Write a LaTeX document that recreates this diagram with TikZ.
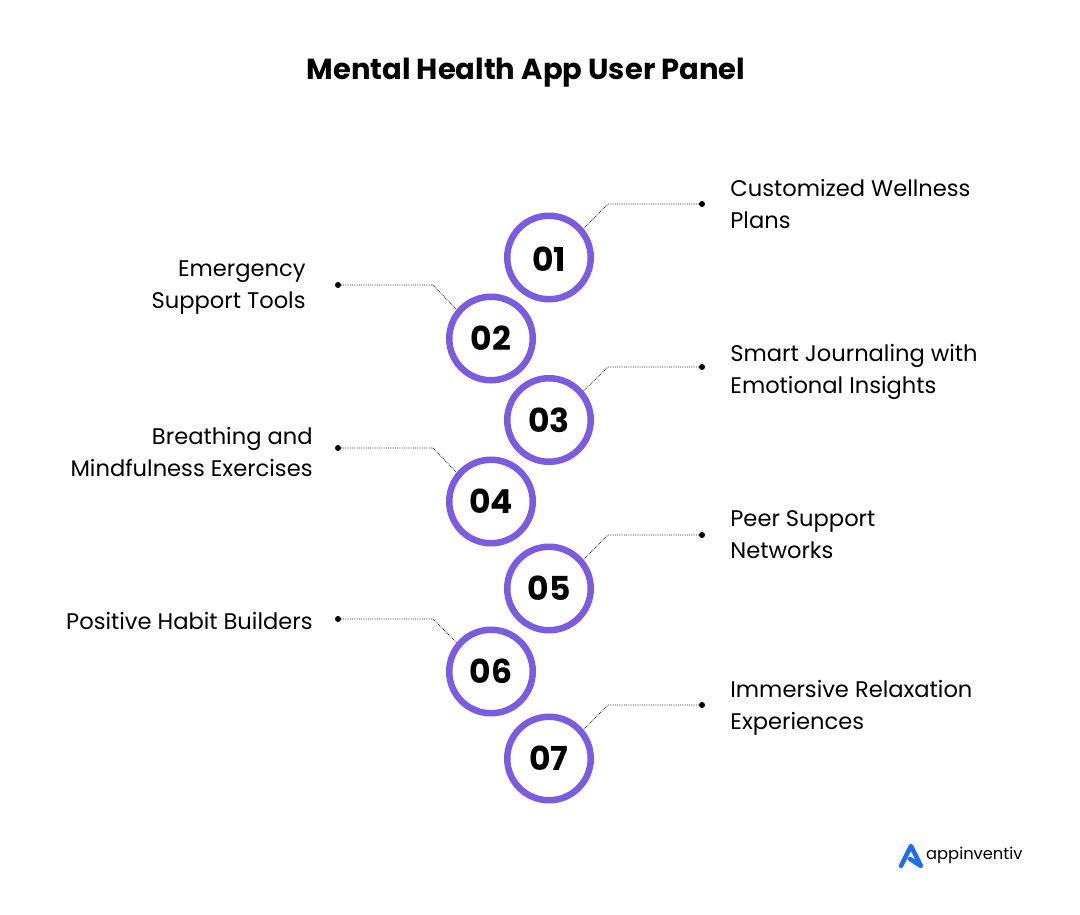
\documentclass[tikz,border=0pt]{standalone}
\usepackage{fontspec}
\setmainfont{Poppins}
\usepackage{xcolor}
\definecolor{ringpurple}{HTML}{7B5CE0}
\definecolor{logoblue}{HTML}{1F6FEB}
\usetikzlibrary{positioning}
\tikzset{
  ring/.style    ={ circle, draw=ringpurple, line width=6.5pt, fill=white, minimum size=83.5pt,
                    inner sep=0pt, font=\fontsize{33}{33}\selectfont\bfseries },
  enddot/.style  ={ circle, fill=black, inner sep=0pt, minimum size=6pt },
  rlabel/.style  ={ font=\fontsize{22.6}{32}\selectfont, align=left, inner sep=0pt },
  llabel/.style  ={ font=\fontsize{22.6}{32}\selectfont, align=right, inner sep=0pt },
  leader/.style  ={ draw=black!85, line width=0.8pt, densely dotted }
}
\begin{document}
\begin{tikzpicture}[x=1pt,y=-1pt]
\useasboundingbox (0,0) rectangle (1080,915);

\node[font=\fontsize{29}{29}\selectfont\bfseries,inner sep=0pt] (title) at (526, 73) {Mental Health App User Panel};

\node[ring,text height=27pt,text depth=0pt] (c1) at (549, 257.5) {01};
\node[ring] (c2) at (491, 338.5) {02};
\node[ring] (c3) at (549, 420) {03};
\node[ring] (c4) at (491, 501.5) {04};
\node[ring] (c5) at (549, 588.5) {05};
\node[ring] (c6) at (491, 671.5) {06};
\node[ring] (c7) at (549, 758.5) {07};

\node[enddot] (d1) at (702, 204) {};
\node[enddot] (d2) at (338, 285) {};
\node[enddot] (d3) at (702, 367) {};
\node[enddot] (d4) at (338, 448) {};
\node[enddot] (d5) at (702, 535) {};
\node[enddot] (d6) at (338, 619) {};
\node[enddot] (d7) at (702, 705) {};

\node[rlabel] (t1) [right=25pt of d1] {Customized Wellness\\Plans};
\node[llabel] (t2) [left=29pt of d2,yshift=-3pt] {Emergency\\Support Tools};
\node[rlabel] (t3) [right=25pt of d3,yshift=-5pt] {Smart Journaling with\\Emotional Insights};
\node[llabel] (t4) [left=22pt of d4,yshift=-4pt] {Breathing and\\Mindfulness Exercises};
\node[rlabel] (t5) [right=25pt of d5] {Peer Support\\Networks};
\node[llabel] (t6) [left=22pt of d6,yshift=-2pt] {Positive Habit Builders};
\node[rlabel] (t7) [right=25pt of d7,yshift=-3pt] {Immersive Relaxation\\Experiences};

\coordinate (b1) at (608, 204);
\coordinate (b2) at (433, 285);
\coordinate (b3) at (608, 367);
\coordinate (b4) at (433, 448);
\coordinate (b5) at (608, 535);
\coordinate (b6) at (433, 619);
\coordinate (b7) at (608, 705);

\draw[leader] (d1) -- (b1) -- (c1.40);
\draw[leader] (d2) -- (b2) -- (c2.140);
\draw[leader] (d3) -- (b3) -- (c3.40);
\draw[leader] (d4) -- (b4) -- (c4.140);
\draw[leader] (d5) -- (b5) -- (c5.40);
\draw[leader] (d6) -- (b6) -- (c6.140);
\draw[leader] (d7) -- (b7) -- (c7.40);

% logo
\draw[logoblue,line width=4.5pt,line join=round,line cap=round] (901,866) -- (911,846) -- (921,866) -- (910,859);
\node[font=\fontsize{16.3}{16}\selectfont,inner sep=0pt,anchor=west] (logo) at (926, 855) {appinventiv};

\end{tikzpicture}
\end{document}
